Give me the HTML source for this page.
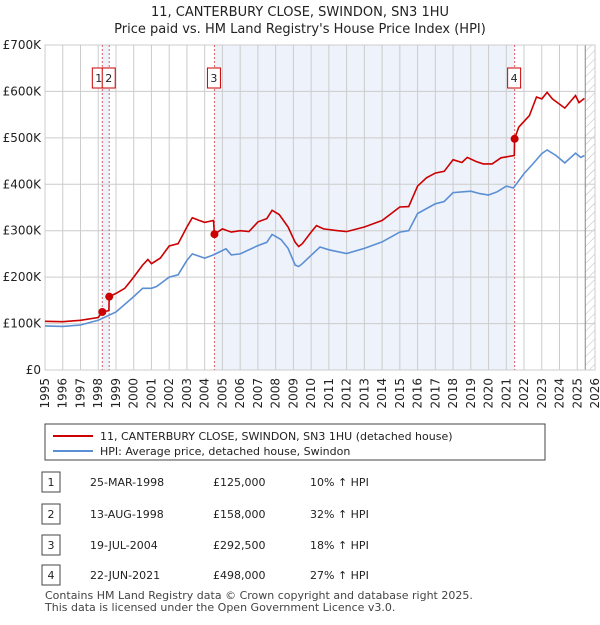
<!DOCTYPE html>
<html><head><meta charset="utf-8"><style>
body{margin:0;background:#fff;font-family:"Liberation Sans","DejaVu Sans",sans-serif;}
svg text{font-family:"DejaVu Sans","Liberation Sans",sans-serif;}
</style></head><body>
<svg id="c" width="600" height="620" xmlns="http://www.w3.org/2000/svg">
<defs><pattern id="hatch" width="6" height="6" patternUnits="userSpaceOnUse" patternTransform="rotate(45)"><line x1="0" y1="0" x2="0" y2="6" stroke="#bbb" stroke-width="1"/></pattern></defs>
<text x="300" y="16" text-anchor="middle" font-size="13" fill="#222">11, CANTERBURY CLOSE, SWINDON, SN3 1HU</text>
<text x="300" y="33" text-anchor="middle" font-size="13" fill="#222">Price paid vs. HM Land Registry's House Price Index (HPI)</text>
<g id="plot"></g>
<rect x="45" y="424" width="500" height="36" fill="#fff" stroke="#444"/>
<line x1="53" y1="436" x2="93" y2="436" stroke="#cc0000" stroke-width="2"/>
<text x="100" y="440" font-size="11" fill="#222">11, CANTERBURY CLOSE, SWINDON, SN3 1HU (detached house)</text>
<line x1="53" y1="451" x2="93" y2="451" stroke="#5b8fd4" stroke-width="2"/>
<text x="100" y="455" font-size="11" fill="#222">HPI: Average price, detached house, Swindon</text>
<g id="table" font-size="11" fill="#222"></g>
<text x="45" y="599" font-size="11" fill="#444">Contains HM Land Registry data © Crown copyright and database right 2025.</text>
<text x="45" y="611" font-size="11" fill="#444">This data is licensed under the Open Government Licence v3.0.</text>
</svg>
<script>
const hpiYears=[1995,1996,1997,1998,1999,2000,2000.5,2001,2001.3,2002,2002.5,2003,2003.3,2004,2004.5,2005.2,2005.5,2006,2007,2007.5,2007.8,2008.3,2008.7,2009.1,2009.3,2009.5,2010,2010.5,2011,2012,2013,2014,2015,2015.5,2016,2017,2017.5,2018,2019,2019.5,2020,2020.5,2021,2021.4,2022,2022.5,2023,2023.3,2023.8,2024.3,2024.9,2025.2,2025.4];
const hpiValues=[95,94,97,107,125,158,176,176,180,200,205,236,250,241,248,261,248,250,268,275,292,281,262,226,223,229,247,265,259,251,262,276,297,300,337,358,363,382,385,380,377,384,396,392,423,444,466,474,462,446,467,458,462];
const redYears=[1995,1996,1997,1998,1998.23,1998.6,1998.62,1999,1999.5,2000,2000.5,2000.8,2001,2001.5,2002,2002.5,2003,2003.3,2003.7,2004,2004.5,2004.55,2005,2005.5,2006,2006.5,2007,2007.5,2007.8,2008.2,2008.7,2009.1,2009.3,2009.5,2010,2010.3,2010.7,2011.5,2012,2013,2014,2015,2015.5,2016,2016.5,2017,2017.5,2018,2018.5,2018.8,2019.3,2019.7,2020.2,2020.7,2021.45,2021.47,2021.7,2022.3,2022.7,2023,2023.3,2023.6,2024.3,2024.9,2025.1,2025.4];
const redValues=[105,104,107,113,125,128,158,165,176,200,226,238,229,241,267,272,308,328,322,318,322,292.5,304,297,300,298,319,326,344,335,308,275,266,272,297,311,304,300,298,308,322,351,352,396,414,424,428,453,447,458,449,444,444,457,462,498,523,548,588,584,598,584,564,591,576,585];
const saleLabels=["1","2","3","4"];
const saleYears=[1998.23,1998.62,2004.55,2021.47];
const saleValues=[125,158,292.5,498];
const saleDates=["25-MAR-1998","13-AUG-1998","19-JUL-2004","22-JUN-2021"];
const salePrices=["£125,000","£158,000","£292,500","£498,000"];
const saleHpi=["10% ↑ HPI","32% ↑ HPI","18% ↑ HPI","27% ↑ HPI"];
const yTicks=[0,100,200,300,400,500,600,700];
const yTickLabels=["£0","£100K","£200K","£300K","£400K","£500K","£600K","£700K"];
const xTicks=[1995,1996,1997,1998,1999,2000,2001,2002,2003,2004,2005,2006,2007,2008,2009,2010,2011,2012,2013,2014,2015,2016,2017,2018,2019,2020,2021,2022,2023,2024,2025,2026];

const NS="http://www.w3.org/2000/svg";
const X0=45,X1=595,Y0=370,Y1=45;
const xs=y=>X0+(y-1995)/(2026-1995)*(X1-X0);
const ys=v=>Y0-v/700*(Y0-Y1);
const plot=document.getElementById('plot');
function mk(tag,attrs,parent){const e=document.createElementNS(NS,tag);for(const k in attrs)e.setAttribute(k,attrs[k]);(parent||plot).appendChild(e);return e;}

let e;
e=mk('rect',{x:xs(saleYears[0]),y:Y1,width:xs(saleYears[1])-xs(saleYears[0]),height:Y0-Y1,fill:'#eef2fb'});


e=mk('rect',{x:xs(saleYears[2]),y:Y1,width:xs(saleYears[3])-xs(saleYears[2]),height:Y0-Y1,fill:'#eef2fb'});


e=mk('rect',{x:xs(2025.45),y:Y1,width:X1-xs(2025.45),height:Y0-Y1,fill:'url(#hatch)'});


xTicks.forEach(t=>{
 e=mk('line',{x1:xs(t),x2:xs(t),y1:Y1,y2:Y0,stroke:'#ccc'});
 
 
 const tx=mk('text',{x:0,y:0,'font-size':12,fill:'#222','text-anchor':'end',transform:`translate(${xs(t)+4},${Y0+8}) rotate(-90)`});
 tx.textContent=t;
 
 
});
yTicks.forEach((t,i)=>{
 e=mk('line',{x1:X0,x2:X1,y1:ys(t),y2:ys(t),stroke:'#ccc'});
 
 
 const tx=mk('text',{x:X0-4,y:ys(t)+4,'font-size':12,fill:'#222','text-anchor':'end'});
 tx.textContent=yTickLabels[i];
 
 
});
e=mk('line',{x1:xs(2025.45),x2:xs(2025.45),y1:Y1,y2:Y0,stroke:'#888'});


e=mk('rect',{x:X0,y:Y1,width:X1-X0,height:Y0-Y1,fill:'none',stroke:'#ccc'});


saleYears.forEach((s,i)=>{
 e=mk('line',{x1:xs(s),x2:xs(s),y1:Y1,y2:Y0,stroke:'#e06060','stroke-dasharray':'2,2'});
 
 
});
const pts=(xa,va)=>xa.map((y,i)=>xs(y).toFixed(1)+','+ys(va[i]).toFixed(1)).join(' ');
e=mk('polyline',{points:pts(hpiYears,hpiValues),fill:'none',stroke:'#5b8fd4','stroke-width':1.6});


e=mk('polyline',{points:pts(redYears,redValues),fill:'none',stroke:'#cc0000','stroke-width':1.6});


saleYears.forEach((s,i)=>{
 e=mk('circle',{cx:xs(s),cy:ys(saleValues[i]),r:4,fill:'#cc0000'});
 
 
 const bx=i===0?xs(s)-10:xs(s)-7;
 e=mk('rect',{x:bx,y:68,width:13,height:20,fill:'#fff',stroke:'#cc0000'});
 
 
 const tx=mk('text',{x:bx+6.5,y:82,'font-size':11,fill:'#222','text-anchor':'middle'});
 tx.textContent=saleLabels[i];
 
 
});
const tbl=document.getElementById('table');
const rowsY=[482,514,545,575];
saleLabels.forEach((l,i)=>{
 const y=rowsY[i];
 e=mk('rect',{x:42,y:y-10,width:18,height:20,fill:'#fff',stroke:'#444'},tbl);
 
 
 const cells=[[51,l,'middle'],[90,saleDates[i],'start'],[213,salePrices[i],'start'],[310,saleHpi[i],'start']];
 cells.forEach(c=>{
  const tx=mk('text',{x:c[0],y:y+4,'text-anchor':c[2]},tbl);
  tx.textContent=c[1];
  
  
 });
});
</script>
</body></html>
